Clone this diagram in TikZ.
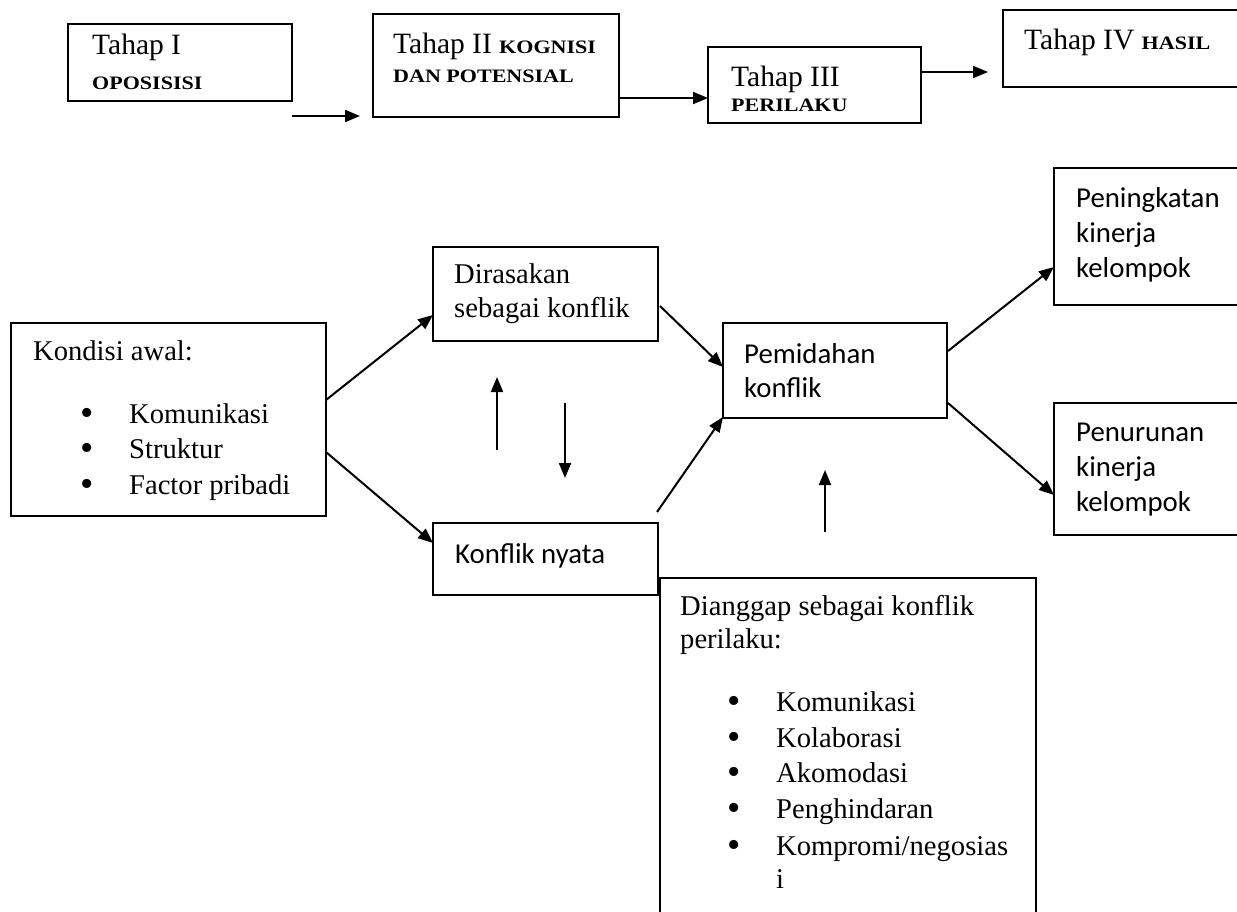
\documentclass[tikz,border=0pt]{standalone}
\usepackage{fontspec}
\usepackage{graphicx}
\setmainfont{Liberation Serif}
\newfontfamily\calfont{Carlito}
\usetikzlibrary{arrows.meta}
\newcommand{\tahapsc}[1]{\scalebox{1.16}[1]{\fontsize{19}{21}\selectfont\bfseries #1}}
\begin{document}
\begin{tikzpicture}[x=1pt,y=-1pt,
  box/.style={draw=black,line width=1.4pt,inner sep=0pt,fill=none},
  arr/.style={line width=2pt,-{Triangle[length=15pt,width=12pt]}},
  tt/.style={anchor=base west,inner sep=0pt,font=\fontsize{29.5}{34}\selectfont},
  tm/.style={anchor=base west,inner sep=0pt,font=\fontsize{28.6}{33}\selectfont},
  tc/.style={anchor=base west,inner sep=0pt,font=\calfont\fontsize{28.8}{34}\selectfont},
  bul/.style={anchor=base,inner sep=0pt,font=\fontsize{38}{40}\selectfont}]
\useasboundingbox (0,0) rectangle (1237,911);
\clip (0,0) rectangle (1237,911);
% top row boxes
\node[box,minimum width=224pt,minimum height=77pt] (t1) at (180,62.5) {};
\node[box,minimum width=246pt,minimum height=103pt] (t2) at (496,65.5) {};
\node[box,minimum width=213pt,minimum height=76pt] (t3) at (814.5,85) {};
\node[box,minimum width=297pt,minimum height=77pt] (t4) at (1151.5,48.5) {};
% top row texts
\node[tt] (t1a) at (92,54) {Tahap I};
\node[tt] (t1b) at (92,89) {\tahapsc{OPOSISISI}};
\node[tt] (t2a) at (393,53) {Tahap II \tahapsc{KOGNISI}};
\node[tt] (t2b) at (393,82) {\tahapsc{DAN POTENSIAL}};
\node[tt] (t3a) at (731,86) {Tahap III};
\node[tt] (t3b) at (731,111) {\tahapsc{PERILAKU}};
\node[tt] (t4a) at (1024,49) {Tahap IV \tahapsc{HASIL}};
% top row arrows
\coordinate (a1s) at (292,116);
\coordinate (a1e) at (360,116);
\coordinate (a2s) at (619,98);
\coordinate (a2e) at (708,98);
\coordinate (a3s) at (921,72);
\coordinate (a3e) at (988,72);
\draw[arr] (a1s) -- (a1e);
\draw[arr] (a2s) -- (a2e);
\draw[arr] (a3s) -- (a3e);
% lower boxes
\node[box,minimum width=315pt,minimum height=193pt] (kon) at (168.5,419.5) {};
\node[box,minimum width=225pt,minimum height=94pt] (dir) at (545.5,294) {};
\node[box,minimum width=225pt,minimum height=72pt] (kny) at (545.5,559) {};
\node[box,minimum width=224pt,minimum height=95pt] (pem) at (835,370.5) {};
\node[box,minimum width=246pt,minimum height=137pt] (pen) at (1177,236.5) {};
\node[box,minimum width=246pt,minimum height=132pt] (pur) at (1177,469) {};
\node[box,minimum width=376pt,minimum height=372pt] (dia) at (848,764) {};
% lower texts
\node[tm] (kon0) at (33,360) {Kondisi awal:};
\node[bul] (kb1) at (87,425) {•};
\node[bul] (kb2) at (87,460) {•};
\node[bul] (kb3) at (87,496) {•};
\node[tm] (kon1) at (129,423) {Komunikasi};
\node[tm] (kon2) at (129,458) {Struktur};
\node[tm] (kon3) at (129,494) {Factor pribadi};
\node[tm] (dir1) at (454,283) {Dirasakan};
\node[tm] (dir2) at (454,317) {sebagai konflik};
\node[tc] (kny1) at (455,563) {Konflik nyata};
\node[tc] (pem1) at (744,363) {Pemidahan};
\node[tc] (pem2) at (744,397) {konflik};
\node[tc] (pen1) at (1076,207) {Peningkatan};
\node[tc] (pen2) at (1076,242) {kinerja};
\node[tc] (pen3) at (1076,277) {kelompok};
\node[tc] (pur1) at (1076,441) {Penurunan};
\node[tc] (pur2) at (1076,476) {kinerja};
\node[tc] (pur3) at (1076,511) {kelompok};
\node[tm] (dia1) at (680,615) {Dianggap sebagai konflik};
\node[tm] (dia2) at (680,648) {perilaku:};
\node[bul] (db1) at (734,713) {•};
\node[bul] (db2) at (734,749) {•};
\node[bul] (db3) at (734,784) {•};
\node[bul] (db4) at (734,820) {•};
\node[bul] (db5) at (734,857) {•};
\node[tm] (dl1) at (776,711) {Komunikasi};
\node[tm] (dl2) at (776,747) {Kolaborasi};
\node[tm] (dl3) at (776,782) {Akomodasi};
\node[tm] (dl4) at (776,818) {Penghindaran};
\node[tm] (dl5) at (776,855) {Kompromi/negosias};
\node[tm] (dl6) at (776,888) {i};
% lower arrows
\coordinate (b1s) at (326,400);
\coordinate (b1e) at (433,315);
\coordinate (b2s) at (326,452);
\coordinate (b2e) at (433,543);
\coordinate (u1s) at (497,450);
\coordinate (u1e) at (497,377);
\coordinate (d1s) at (565,403);
\coordinate (d1e) at (565,478);
\coordinate (c1s) at (660,306);
\coordinate (c1e) at (723,367);
\coordinate (c2s) at (657,512);
\coordinate (c2e) at (723,417);
\coordinate (e1s) at (948,351);
\coordinate (e1e) at (1054,267);
\coordinate (e2s) at (948,403);
\coordinate (e2e) at (1054,495);
\coordinate (u2s) at (825,532);
\coordinate (u2e) at (825,470);
\draw[arr] (b1s) -- (b1e);
\draw[arr] (b2s) -- (b2e);
\draw[arr] (u1s) -- (u1e);
\draw[arr] (d1s) -- (d1e);
\draw[arr] (c1s) -- (c1e);
\draw[arr] (c2s) -- (c2e);
\draw[arr] (e1s) -- (e1e);
\draw[arr] (e2s) -- (e2e);
\draw[arr] (u2s) -- (u2e);
\end{tikzpicture}
\end{document}
